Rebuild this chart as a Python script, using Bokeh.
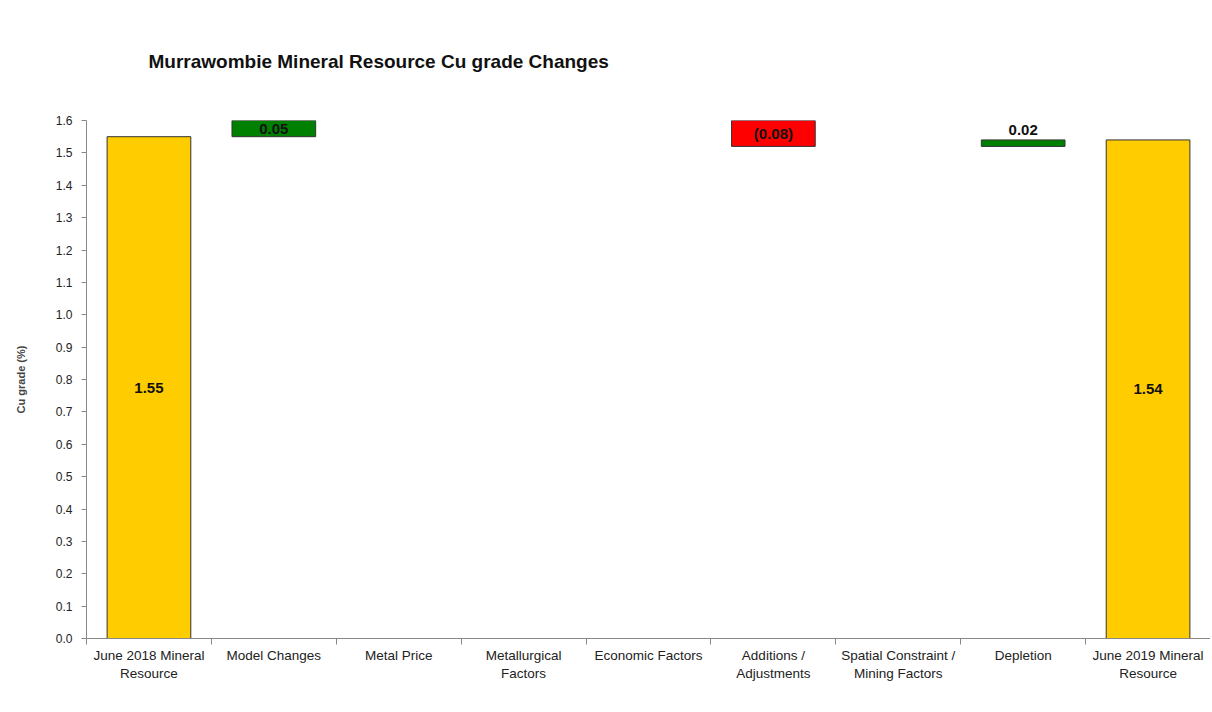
from bokeh.plotting import figure
from bokeh.models import FixedTicker, LinearAxis, Range1d, Title
from bokeh.core.properties import value
from bokeh.embed import file_html
from bokeh.resources import INLINE

title_text = "Murrawombie Mineral Resource Cu grade Changes"
categories = ["June 2018 Mineral\nResource", "Model Changes", "Metal Price",
              "Metallurgical\nFactors", "Economic Factors", "Additions /\nAdjustments",
              "Spatial Constraint /\nMining Factors", "Depletion", "June 2019 Mineral\nResource"]
changes = [1.55, 0.05, 0.0, 0.0, 0.0, -0.08, 0.0, 0.02, 1.54]
kinds = ["total", "delta", "delta", "delta", "delta", "delta", "delta", "delta", "total"]
value_labels = ["1.55", "0.05", "", "", "", "(0.08)", "", "0.02", "1.54"]
y_ticks = [0.0, 0.1, 0.2, 0.3, 0.4, 0.5, 0.6, 0.7, 0.8, 0.9, 1.0, 1.1, 1.2, 1.3, 1.4, 1.5, 1.6]

FONT = "Liberation Sans"
GOLD, GREEN, RED = "#FFCC00", "#008000", "#FF0000"

n = len(categories)
centers = [i + 0.5 for i in range(n)]
y_max = y_ticks[-1]

# waterfall geometry
bx, bb, bt, bc = [], [], [], []
lin_x, lin_y, lin_t = [], [], []
top_x, top_y, top_t = [], [], []
running = 0.0
for i, (c, k, lab) in enumerate(zip(changes, kinds, value_labels)):
    if k == "total":
        lo, hi, col = 0.0, c, GOLD
        running = c
    else:
        if c == 0:
            continue
        lo, hi = min(running, running + c), max(running, running + c)
        col = GREEN if c > 0 else RED
        running += c
    bx.append(centers[i]); bb.append(lo); bt.append(hi); bc.append(col)
    if hi - lo < 0.03:
        top_x.append(centers[i]); top_y.append(hi); top_t.append(lab)
    else:
        lin_x.append(centers[i]); lin_y.append((lo + hi) / 2); lin_t.append(lab)

p = figure(width=1210, height=704, x_range=Range1d(0, n), y_range=Range1d(0, y_max),
           output_backend="svg", toolbar_location=None,
           x_axis_location=None, y_axis_location=None,
           min_border_left=86, min_border_right=0, min_border_top=120, min_border_bottom=66)
p.outline_line_color = None
p.xgrid.visible = False
p.ygrid.visible = False

title = Title(text=title_text, text_font=FONT,
              text_font_size="19px", text_font_style="bold", text_color="#111111",
              align="left", offset=62, standoff=97)
p.add_layout(title, "above")

p.vbar(x=bx, width=0.67, bottom=bb, top=bt, fill_color=bc, line_color="#333333", line_width=1)

p.text(x=lin_x, y=lin_y, text=lin_t, text_align="center", text_baseline="middle",
       text_font=value(FONT), text_font_size="15px", text_font_style="bold", text_color="#111111")
p.text(x=top_x, y=top_y, text=top_t, text_align="center", text_baseline="bottom", y_offset=-5,
       text_font=value(FONT), text_font_size="15px", text_font_style="bold", text_color="#111111")

yax = LinearAxis(ticker=FixedTicker(ticks=y_ticks),
                 major_label_overrides={t: f"{t:.1f}" for t in y_ticks},
                 axis_label="Cu grade (%)", axis_label_text_font=FONT,
                 axis_label_text_font_size="11px", axis_label_text_font_style="bold",
                 axis_label_standoff=26, major_label_standoff=9,
                 major_label_text_font=FONT, major_label_text_font_size="12px",
                 major_label_text_color="#222222",
                 major_tick_in=0, major_tick_out=5, minor_tick_out=0, minor_tick_in=0,
                 axis_line_color="#888888", major_tick_line_color="#888888")
p.add_layout(yax, "left")

xax = LinearAxis(ticker=FixedTicker(ticks=centers, minor_ticks=list(range(n + 1))),
                 major_label_overrides={c: lab for c, lab in zip(centers, categories)},
                 major_label_text_font=FONT, major_label_text_font_size="13.5px",
                 major_label_text_color="#222222", major_label_standoff=3,
                 major_tick_in=0, major_tick_out=0, minor_tick_in=0, minor_tick_out=6,
                 axis_line_color="#888888", minor_tick_line_color="#888888")
p.add_layout(xax, "below")

open("out.html", "w").write(file_html(p, INLINE))
